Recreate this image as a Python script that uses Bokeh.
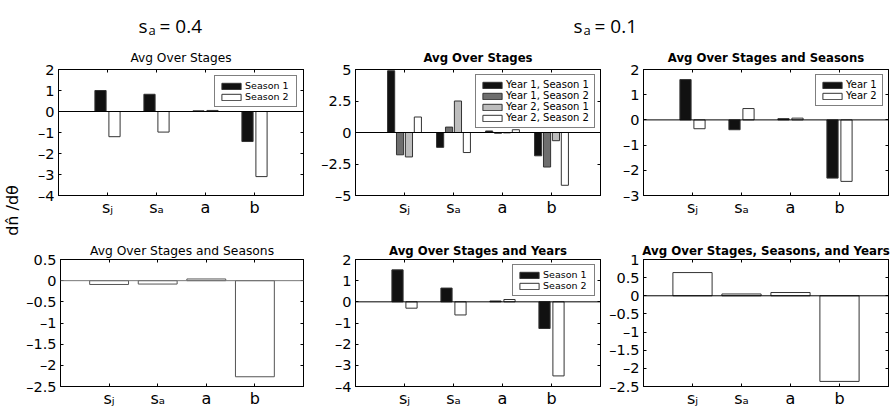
import math
from bokeh.plotting import figure
from bokeh.models import (Range1d, FixedTicker, LinearAxis, Span, Legend,
                          LegendItem, CustomJSTickFormatter, ColumnDataSource)
from bokeh.layouts import column, row
from bokeh.embed import file_html
from bokeh.resources import INLINE
from bokeh.core.properties import value

# ---------------- data ----------------
categories = ["sj", "sa", "a", "b"]
tick_labels = ["s\u2c7c", "s\u2090", "a", "b"]

# s_a = 0.4
p1_season1 = [1.0, 0.82, 0.03, -1.43]
p1_season2 = [-1.2, -0.98, 0.05, -3.1]
p4_avg = [-0.09, -0.08, 0.04, -2.27]

# s_a = 0.1
p2_y1s1 = [4.9, -1.18, 0.12, -1.85]
p2_y1s2 = [-1.77, 0.43, -0.06, -2.74]
p2_y2s1 = [-1.94, 2.5, -0.03, -0.65]
p2_y2s2 = [1.23, -1.59, 0.22, -4.19]
p3_year1 = [1.6, -0.39, 0.05, -2.31]
p3_year2 = [-0.35, 0.45, 0.07, -2.44]
p5_season1 = [1.51, 0.65, 0.04, -1.26]
p5_season2 = [-0.3, -0.62, 0.11, -3.5]
p6_avg = [0.64, 0.05, 0.09, -2.36]

y_label = "dn\u0302 /d\u03b8"

FONT = "DejaVu Sans"
YTICK_FS = "14.5px"
XTICK_FS = "16px"
W_TOTAL, H_TOTAL = 891, 410
STRIP_W = 23


def xs(offset):
    return [i + 1 + offset for i in range(len(categories))]


def make_fig(width, height, left, right, top, bottom, yr, yticks, title,
             bold, title_fs, standoff):
    p = figure(width=width, height=height, x_range=Range1d(0, 5),
               y_range=Range1d(*yr), output_backend="svg",
               toolbar_location=None, min_border_left=left,
               min_border_right=right, min_border_top=top,
               min_border_bottom=bottom, title=title)
    p.title.text_font = FONT
    p.title.text_font_size = title_fs
    p.title.text_font_style = "bold" if bold else "normal"
    p.title.align = "center"
    p.title.standoff = standoff
    p.title.text_color = "black"
    p.xgrid.visible = False
    p.ygrid.visible = False
    p.outline_line_color = "black"
    p.outline_line_width = 1
    p.background_fill_color = "white"

    p.xaxis.ticker = FixedTicker(ticks=[1, 2, 3, 4])
    p.xaxis.formatter = CustomJSTickFormatter(
        args=dict(labels=tick_labels),
        code="var i = Math.round(tick) - 1; return (i >= 0 && i < labels.length) ? labels[i] : '';")
    p.yaxis.ticker = FixedTicker(ticks=yticks)
    p.yaxis.formatter = CustomJSTickFormatter(
        code="return tick < 0 ? '\\u2013' + String(-tick) : String(tick);")
    for ax in (p.xaxis, p.yaxis):
        ax.axis_line_color = "black"
        ax.major_tick_line_color = "black"
        ax.major_tick_in = 3
        ax.major_tick_out = 0
        ax.minor_tick_line_color = None
        ax.major_label_text_font = FONT
        ax.major_label_text_color = "black"
    p.xaxis.major_label_text_font_size = XTICK_FS
    p.yaxis.major_label_text_font_size = YTICK_FS
    p.xaxis.major_label_standoff = 2
    p.yaxis.major_label_standoff = 4

    blank = CustomJSTickFormatter(code="return '';")
    ra = LinearAxis(ticker=FixedTicker(ticks=yticks), formatter=blank,
                    major_label_text_font_size="1px", major_label_text_color=None,
                    major_label_standoff=0, major_tick_in=3, major_tick_out=0,
                    minor_tick_line_color=None, axis_line_color="black")
    ta = LinearAxis(ticker=FixedTicker(ticks=[1, 2, 3, 4]), formatter=blank,
                    major_label_text_font_size="1px", major_label_text_color=None,
                    major_label_standoff=0, major_tick_in=3, major_tick_out=0,
                    minor_tick_line_color=None, axis_line_color="black")
    p.add_layout(ra, "right")
    p.add_layout(ta, "above")
    return p


def add_bars(p, series, colors, width, offsets, edge="#333333"):
    rs = []
    for vals, col, off in zip(series, colors, offsets):
        src = ColumnDataSource(dict(x=xs(off), top=vals, cat=categories))
        r = p.vbar(x="x", top="top", bottom=0, width=width, source=src,
                   fill_color=col, line_color=edge, line_width=1)
        rs.append(r)
    return rs


def add_legend(p, labels, renderers, fs, margin, label_w):
    items = [LegendItem(label=l, renderers=[r]) for l, r in zip(labels, renderers)]
    lg = Legend(items=items, location="top_right", label_text_font=FONT,
                label_text_font_size=fs, glyph_width=24, glyph_height=8,
                label_standoff=2, padding=4, spacing=0, margin=margin,
                label_height=11, label_width=label_w, border_line_color="black",
                border_line_width=1, background_fill_color="white",
                background_fill_alpha=1.0, label_text_color="black")
    p.add_layout(lg)


def baseline(p, color="black"):
    p.add_layout(Span(location=0, dimension="width", line_color=color, line_width=1))


def blank_fig(width, height):
    f = figure(width=width, height=height, x_range=Range1d(0, width),
               y_range=Range1d(0, height), output_backend="svg",
               toolbar_location=None, min_border=0,
               x_axis_location=None, y_axis_location=None)
    f.xgrid.visible = False
    f.ygrid.visible = False
    f.outline_line_color = None
    return f


TWO_W = 0.2286
TWO_OFF = [-0.1429, 0.1429]
FOUR_W = 0.1455
FOUR_OFF = [-0.2727, -0.0909, 0.0909, 0.2727]

# row geometry
TOP_H = 40
R1_H, R1_TOP, R1_BOT = 199, 29, 44
R2_H, R2_TOP, R2_BOT = 171, 18, 24

# ---- full-height left strip with the y label ----
strip = blank_fig(STRIP_W, H_TOTAL)
strip.text(x=[12], y=[H_TOTAL - 210], text=[y_label], angle=math.pi / 2,
           text_font=value(FONT), text_font_size="16px", text_align="center",
           text_baseline="middle", text_color="black")

# ---- panel 1 ----
p1 = make_fig(312 - STRIP_W, R1_H, 58 - STRIP_W, 9, R1_TOP, R1_BOT, (-4, 2),
              [-4, -3, -2, -1, 0, 1, 2], "Avg Over Stages", False, "12.2px", 9)
r = add_bars(p1, [p1_season1, p1_season2], ["#111111", "white"], TWO_W, TWO_OFF)
baseline(p1)
add_legend(p1, ["Season 1", "Season 2"], r, "9.5px", 6, 47)

# ---- panel 2 ----
p2 = make_fig(289, R1_H, 43, 1, R1_TOP, R1_BOT, (-5, 5), [-5, -2.5, 0, 2.5, 5],
              "Avg Over Stages", True, "11.7px", 9)
r = add_bars(p2, [p2_y1s1, p2_y1s2, p2_y2s1, p2_y2s2],
             ["#111111", "#6e6e6e", "#bdbdbd", "white"], FOUR_W, FOUR_OFF)
baseline(p2)
add_legend(p2, ["Year 1, Season 1", "Year 1, Season 2", "Year 2, Season 1", "Year 2, Season 2"],
           r, "10px", 5, 84)

# ---- panel 3 ----
p3 = make_fig(290, R1_H, 42, 3, R1_TOP, R1_BOT, (-3, 2), [-3, -2, -1, 0, 1, 2],
              "Avg Over Stages and Seasons", True, "11.7px", 9)
r = add_bars(p3, [p3_year1, p3_year2], ["#111111", "white"], TWO_W, TWO_OFF)
baseline(p3)
add_legend(p3, ["Year 1", "Year 2"], r, "10px", 5, 32)

# ---- panel 4 ----
p4 = make_fig(312 - STRIP_W, R2_H, 58 - STRIP_W, 9, R2_TOP, R2_BOT, (-2.5, 0.5),
              [-2.5, -2, -1.5, -1, -0.5, 0, 0.5],
              "Avg Over Stages and Seasons", False, "12.3px", 4)
add_bars(p4, [p4_avg], ["white"], 0.8, [0.0], edge="#555555")
baseline(p4, "#777777")

# ---- panel 5 ----
p5 = make_fig(289, R2_H, 43, 1, R2_TOP, R2_BOT, (-4, 2), [-4, -3, -2, -1, 0, 1, 2],
              "Avg Over Stages and Years", True, "11.7px", 4)
r = add_bars(p5, [p5_season1, p5_season2], ["#111111", "white"], TWO_W, TWO_OFF)
baseline(p5)
add_legend(p5, ["Season 1", "Season 2"], r, "9.5px", 5, 47)

# ---- panel 6 ----
p6 = make_fig(290, R2_H, 42, 3, R2_TOP, R2_BOT, (-2.5, 1),
              [-2.5, -2, -1.5, -1, -0.5, 0, 0.5, 1],
              "Avg Over Stages, Seasons, and Years", True, "11.8px", 4)
add_bars(p6, [p6_avg], ["white"], 0.8, [0.0])
baseline(p6)

# ---- top strip with s_a labels ----
top = blank_fig(W_TOTAL - STRIP_W, TOP_H)
main_src = ColumnDataSource(dict(x=[138 - STRIP_W, 159 - STRIP_W, 573 - STRIP_W, 594 - STRIP_W],
                                 y=[15, 15, 15, 15], t=["s", "= 0.4", "s", "= 0.1"]))
sub_src = ColumnDataSource(dict(x=[148 - STRIP_W, 583 - STRIP_W], y=[11, 11], t=["a", "a"]))
top.text(x="x", y="y", text="t", source=main_src, text_font=value("Open Sans"),
         text_font_size="19px", text_align="left", text_baseline="alphabetic",
         text_color="black")
top.text(x="x", y="y", text="t", source=sub_src, text_font=value("Open Sans"),
         text_font_size="13px", text_align="left", text_baseline="alphabetic",
         text_color="black")

layout = row(strip, column(top, row(p1, p2, p3), row(p4, p5, p6)))
open("out.html", "w").write(file_html(layout, INLINE))
